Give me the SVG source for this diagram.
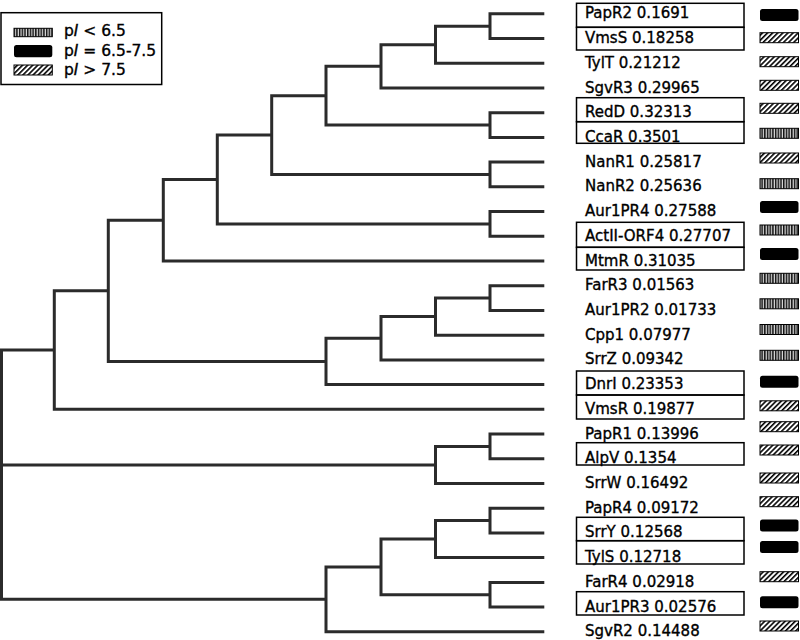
<svg xmlns="http://www.w3.org/2000/svg" width="800" height="640" viewBox="0 0 800 640">
<style>
.br{fill:none;stroke:#2b2b2b;stroke-width:3;stroke-linejoin:miter}
.lb{font-family:"DejaVu Sans",Verdana,sans-serif;font-size:15px;fill:#000;stroke:#000;stroke-width:0.35}
.lg{font-family:"DejaVu Sans",Verdana,sans-serif;font-size:15.5px;fill:#000;stroke:#000;stroke-width:0.35}
.bx{fill:none;stroke:#000;stroke-width:1.5}
.hb{fill:url(#hatch);stroke:#000;stroke-width:1}
.vb{fill:url(#vstripe);stroke:#000;stroke-width:1}
.kb{fill:#000}
</style>
<defs>
<pattern id="hatch" patternUnits="userSpaceOnUse" width="3.6" height="3.6" patternTransform="rotate(45)">
<rect width="3.6" height="3.6" fill="#fff"/>
<line x1="0.8" y1="0" x2="0.8" y2="3.6" stroke="#000" stroke-width="1.6"/>
</pattern>
<pattern id="vstripe" patternUnits="userSpaceOnUse" width="2.7" height="20">
<rect width="2.7" height="20" fill="#ddd"/>
<rect x="0" width="1.5" height="20" fill="#111"/>
</pattern>
</defs>
<rect width="800" height="640" fill="#fff"/>

<g id="legend">
<rect x="1" y="12.7" width="160.7" height="71.8" class="bx"/>
<rect x="14" y="28.3" width="38.3" height="8.4" class="vb"/>
<rect x="14" y="45" width="38.3" height="12.3" rx="2.5" class="kb"/>
<rect x="14" y="65" width="38.3" height="10" class="hb"/>
<text x="64" y="36" class="lg">p<tspan font-style="italic">I</tspan> &lt; 6.5</text>
<text x="64" y="55.5" class="lg">p<tspan font-style="italic">I</tspan> = 6.5-7.5</text>
<text x="64" y="74.5" class="lg">p<tspan font-style="italic">I</tspan> &gt; 7.5</text>
</g>

<g id="connectors">
<path class="br" d="M544.3 13.8H490V38.5H544.3"/>
<path class="br" d="M490 26.15H435.5V63.2H544.3"/>
<path class="br" d="M435.5 44.7H381V88H544.3"/>
<path class="br" d="M544.3 112.7H490V137.4H544.3"/>
<path class="br" d="M381 66.3H326V125.05H490"/>
<path class="br" d="M544.3 162.1H490V186.8H544.3"/>
<path class="br" d="M326 95.7H271.7V174.45H490"/>
<path class="br" d="M544.3 211.6H490V236.3H544.3"/>
<path class="br" d="M271.7 135.1H217.3V223.95H490"/>
<path class="br" d="M217.3 179.5H163.3V261H544.3"/>
<path class="br" d="M544.3 285.7H490V310.4H544.3"/>
<path class="br" d="M490 298.05H435.5V335.2H544.3"/>
<path class="br" d="M435.5 316.6H381V359.9H544.3"/>
<path class="br" d="M381 338.25H326V384.6H544.3"/>
<path class="br" d="M163.3 220.25H108.3V361.4H326"/>
<path class="br" d="M108.3 290.8H54.3V409.3H544.3"/>
<path class="br" d="M544.3 434H490V458.8H544.3"/>
<path class="br" d="M490 446.4H435.5V483.5H544.3"/>
<path class="br" d="M544.3 508.2H490V532.9H544.3"/>
<path class="br" d="M490 520.55H435.5V557.6H544.3"/>
<path class="br" d="M544.3 582.4H490V607.1H544.3"/>
<path class="br" d="M435.5 539.1H381V594.75H490"/>
<path class="br" d="M381 566.9H326V631.8H544.3"/>
<path class="br" d="M54.3 350.05H1.5V599.35H326"/>
<path class="br" d="M1.5 464.95H435.5"/>
</g>

<g id="n-PapR2"><rect x="576.5" y="3.3" width="167.5" height="24" class="bx"/><text x="585" y="18.3" class="lb">PapR2 0.1691</text><rect x="760" y="9" width="38.5" height="12" rx="2.5" class="kb"/></g>
<g id="n-VmsS"><rect x="576.5" y="27.3" width="167.5" height="22.7" class="bx"/><text x="585" y="43" class="lb">VmsS 0.18258</text><rect x="760" y="32.7" width="38.5" height="10" class="hb"/></g>
<g id="n-TylT"><text x="585" y="67.7" class="lb">TylT 0.21212</text><rect x="760" y="56.7" width="38.5" height="10" class="hb"/></g>
<g id="n-SgvR3"><text x="585" y="92.5" class="lb">SgvR3 0.29965</text><rect x="760" y="80.3" width="38.5" height="10" class="hb"/></g>
<g id="n-RedD"><rect x="576.5" y="97.7" width="167.5" height="24" class="bx"/><text x="585" y="117.2" class="lb">RedD 0.32313</text><rect x="760" y="103.3" width="38.5" height="10" class="hb"/></g>
<g id="n-CcaR"><rect x="576.5" y="121.7" width="167.5" height="21.6" class="bx"/><text x="585" y="141.9" class="lb">CcaR 0.3501</text><rect x="760" y="128.3" width="38.5" height="10" class="vb"/></g>
<g id="n-NanR1"><text x="585" y="166.6" class="lb">NanR1 0.25817</text><rect x="760" y="153" width="38.5" height="10" class="hb"/></g>
<g id="n-NanR2"><text x="585" y="191.3" class="lb">NanR2 0.25636</text><rect x="760" y="178.7" width="38.5" height="10" class="vb"/></g>
<g id="n-Aur1PR4"><text x="585" y="216.1" class="lb">Aur1PR4 0.27588</text><rect x="760" y="201" width="38.5" height="12" rx="2.5" class="kb"/></g>
<g id="n-ActII-ORF4"><rect x="576.5" y="222.3" width="167.5" height="25" class="bx"/><text x="585" y="240.8" class="lb">ActII-ORF4 0.27707</text><rect x="760" y="225" width="38.5" height="10" class="vb"/></g>
<g id="n-MtmR"><rect x="576.5" y="247.3" width="167.5" height="22.7" class="bx"/><text x="585" y="265.5" class="lb">MtmR 0.31035</text><rect x="760" y="248" width="38.5" height="12" rx="2.5" class="kb"/></g>
<g id="n-FarR3"><text x="585" y="290.2" class="lb">FarR3 0.01563</text><rect x="760" y="273.3" width="38.5" height="10" class="vb"/></g>
<g id="n-Aur1PR2"><text x="585" y="314.9" class="lb">Aur1PR2 0.01733</text><rect x="760" y="298.8" width="38.5" height="10" class="vb"/></g>
<g id="n-Cpp1"><text x="585" y="339.7" class="lb">Cpp1 0.07977</text><rect x="760" y="324.5" width="38.5" height="10" class="vb"/></g>
<g id="n-SrrZ"><text x="585" y="364.4" class="lb">SrrZ 0.09342</text><rect x="760" y="350.3" width="38.5" height="10" class="vb"/></g>
<g id="n-DnrI"><rect x="576.5" y="371" width="167.5" height="24" class="bx"/><text x="585" y="389.1" class="lb">DnrI 0.23353</text><rect x="760" y="375.7" width="38.5" height="12" rx="2.5" class="kb"/></g>
<g id="n-VmsR"><rect x="576.5" y="395" width="167.5" height="24" class="bx"/><text x="585" y="413.8" class="lb">VmsR 0.19877</text><rect x="760" y="400.8" width="38.5" height="10" class="hb"/></g>
<g id="n-PapR1"><text x="585" y="438.5" class="lb">PapR1 0.13996</text><rect x="760" y="421.7" width="38.5" height="10" class="hb"/></g>
<g id="n-AlpV"><rect x="576.5" y="442.7" width="167.5" height="22.3" class="bx"/><text x="585" y="463.3" class="lb">AlpV 0.1354</text><rect x="760" y="445" width="38.5" height="10" class="hb"/></g>
<g id="n-SrrW"><text x="585" y="488" class="lb">SrrW 0.16492</text><rect x="760" y="473" width="38.5" height="10" class="hb"/></g>
<g id="n-PapR4"><text x="585" y="512.7" class="lb">PapR4 0.09172</text><rect x="760" y="496.7" width="38.5" height="10" class="hb"/></g>
<g id="n-SrrY"><rect x="576.5" y="517.3" width="167.5" height="23.4" class="bx"/><text x="585" y="537.4" class="lb">SrrY 0.12568</text><rect x="760" y="519.5" width="38.5" height="12" rx="2.5" class="kb"/></g>
<g id="n-TylS"><rect x="576.5" y="540.7" width="167.5" height="23.3" class="bx"/><text x="585" y="562.1" class="lb">TylS 0.12718</text><rect x="760" y="541" width="38.5" height="12" rx="2.5" class="kb"/></g>
<g id="n-FarR4"><text x="585" y="586.9" class="lb">FarR4 0.02918</text><rect x="760" y="571.7" width="38.5" height="10" class="hb"/></g>
<g id="n-Aur1PR3"><rect x="576.5" y="591.7" width="167.5" height="23.3" class="bx"/><text x="585" y="611.6" class="lb">Aur1PR3 0.02576</text><rect x="760" y="596.2" width="38.5" height="12" rx="2.5" class="kb"/></g>
<g id="n-SgvR2"><text x="585" y="636.3" class="lb">SgvR2 0.14488</text><rect x="760" y="621" width="38.5" height="10" class="hb"/></g>
</svg>
